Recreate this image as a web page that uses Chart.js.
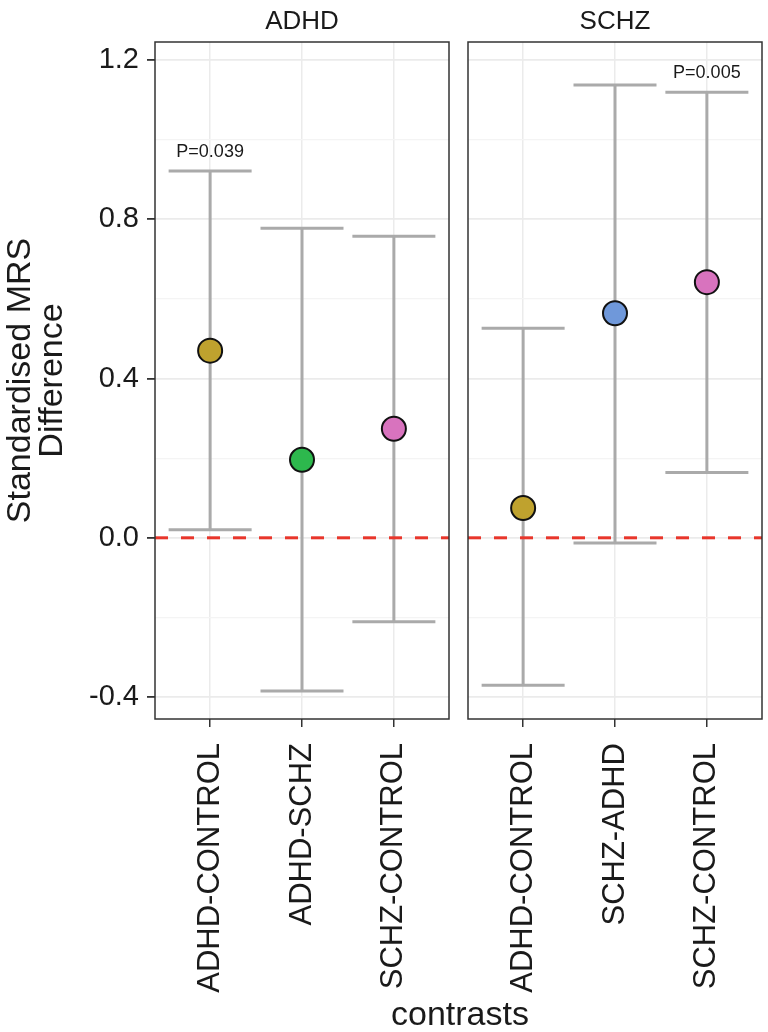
<!DOCTYPE html>
<html>
<head>
<meta charset="utf-8">
<script src="https://cdn.jsdelivr.net/npm/chart.js@4"></script>
<style>
    body { margin: 0; background: #fff; }
    #wrap { position: relative; width: 768px; height: 1032px; overflow: hidden; }
    #left { position: absolute; left: 0; top: 0; }
    #right { position: absolute; left: 458px; top: 0; }
    #xtitle {
        position: absolute; left: 0; width: 920px; top: 994px;
        text-align: center; font: 34px "Liberation Sans", Arial, sans-serif; color: #1a1a1a;
    }
</style>
</head>
<body>
<div id="wrap">
    <canvas id="left" width="458" height="1032"></canvas>
    <canvas id="right" width="310" height="1032"></canvas>
    <div id="xtitle">contrasts</div>
</div>
<script>
// 数据：每个面板的对比、估计值和置信区间
const adhdContrasts = ['ADHD-CONTROL', 'ADHD-SCHZ', 'SCHZ-CONTROL'];
const adhdEstimate = [0.470, 0.196, 0.274];
const adhdLower = [0.020, -0.385, -0.211];
const adhdUpper = [0.921, 0.777, 0.757];
const adhdPValues = ['P=0.039', '', ''];

const schzContrasts = ['ADHD-CONTROL', 'SCHZ-ADHD', 'SCHZ-CONTROL'];
const schzEstimate = [0.075, 0.564, 0.642];
const schzLower = [-0.370, -0.013, 0.164];
const schzUpper = [0.526, 1.137, 1.119];
const schzPValues = ['', '', 'P=0.005'];

const yTicks = [-0.4, -0.2, 0.0, 0.2, 0.4, 0.6, 0.8, 1.0, 1.2];
const yMajorTicks = [-0.4, 0.0, 0.4, 0.8, 1.2];

const adhdColors = ['#BFA22E', '#2DB84D', '#D873BE'];
const schzColors = ['#BFA22E', '#6F98DA', '#D873BE'];

const FONT = '"Liberation Sans", Arial, sans-serif';
const isMajor = v => yMajorTicks.some(t => Math.abs(t - v) < 1e-6);

// 面板边框、分面标题和P值标注
const panelPlugin = {
    id: 'panel',
    afterDatasetsDraw(chart, args, opts) {
        const { ctx, chartArea, scales } = chart;
        ctx.save();
        ctx.fillStyle = '#1a1a1a';
        ctx.font = '18px ' + FONT;
        ctx.textAlign = 'center';
        ctx.textBaseline = 'middle';
        opts.pValues.forEach((txt, i) => {
            if (!txt) return;
            const x = scales.x.getPixelForValue(i);
            const y = scales.y.getPixelForValue(opts.upper[i]) - 19;
            ctx.fillText(txt, x, y);
        });
        ctx.strokeStyle = '#333';
        ctx.lineWidth = 1.5;
        ctx.strokeRect(chartArea.left, chartArea.top, chartArea.right - chartArea.left, chartArea.bottom - chartArea.top);
        ctx.font = '26px ' + FONT;
        ctx.fillText(opts.strip, (chartArea.left + chartArea.right) / 2, 22);
        ctx.restore();
    }
};

function makeChart(canvasId, strip, contrasts, estimate, lower, upper, pValues, colors, isLeft) {
    const points = estimate.map((v, i) => ({ x: i, y: v }));
    const caps = [];
    lower.forEach((v, i) => { caps.push({ x: i, y: v }); caps.push({ x: i, y: upper[i] }); });

    const datasets = [
        {
            type: 'scatter',
            data: points,
            backgroundColor: colors,
            borderColor: '#111',
            borderWidth: 2,
            pointRadius: 12,
            pointHoverRadius: 12
        },
        {
            type: 'line',
            data: [{ x: -0.6, y: 0 }, { x: 2.6, y: 0 }],
            borderColor: '#E8362B',
            borderWidth: 3,
            borderDash: [13, 13],
            pointRadius: 0
        },
        {
            type: 'scatter',
            data: caps,
            pointStyle: 'line',
            pointRadius: 41.5,
            pointHoverRadius: 41.5,
            borderColor: '#AAAAAA',
            borderWidth: 3
        }
    ];
    contrasts.forEach((c, i) => {
        datasets.push({
            type: 'line',
            data: [{ x: i, y: lower[i] }, { x: i, y: upper[i] }],
            borderColor: '#AAAAAA',
            borderWidth: 3,
            pointRadius: 0
        });
    });

    return new Chart(document.getElementById(canvasId), {
        data: { datasets },
        plugins: [panelPlugin],
        options: {
            responsive: false,
            animation: false,
            layout: {
                autoPadding: false,
                padding: isLeft ? { top: 42, right: 9, left: 0, bottom: 0 } : { top: 42, right: 6, left: 10, bottom: 0 }
            },
            plugins: {
                legend: { display: false },
                tooltip: { enabled: false },
                panel: { strip, pValues, upper }
            },
            scales: {
                x: {
                    type: 'linear',
                    min: -0.6,
                    max: 2.6,
                    afterBuildTicks: s => { s.ticks = contrasts.map((c, i) => ({ value: i })); },
                    afterFit: s => { s.height = 313; s.paddingLeft = 0; s.paddingRight = 0; },
                    border: { display: false },
                    grid: { color: '#EBEBEB', lineWidth: 1.5, tickColor: '#333', tickLength: 8 },
                    ticks: {
                        autoSkip: false,
                        minRotation: 90,
                        maxRotation: 90,
                        padding: 16,
                        color: '#1a1a1a',
                        font: { family: FONT, size: 31 },
                        callback: v => contrasts[v]
                    }
                },
                y: {
                    min: -0.455,
                    max: 1.245,
                    afterBuildTicks: s => { s.ticks = yTicks.map(v => ({ value: v })); },
                    afterFit: s => { s.width = isLeft ? 155 : 0; s.paddingTop = 0; s.paddingBottom = 0; },
                    border: { display: false },
                    grid: {
                        color: c => isMajor(c.tick.value) ? '#EBEBEB' : '#F4F4F4',
                        lineWidth: c => isMajor(c.tick.value) ? 1.8 : 1.2,
                        drawTicks: isLeft,
                        tickColor: c => isMajor(c.tick.value) ? '#333' : 'rgba(0,0,0,0)',
                        tickLength: 8
                    },
                    ticks: {
                        display: isLeft,
                        padding: 8,
                        color: '#1a1a1a',
                        font: { family: FONT, size: 29 },
                        callback: v => isMajor(v) ? v.toFixed(1) : ''
                    },
                    title: {
                        display: isLeft,
                        text: ['Standardised MRS', 'Difference'],
                        color: '#1a1a1a',
                        font: { family: FONT, size: 34, lineHeight: 0.95 },
                        padding: { top: 4, bottom: 0 }
                    }
                }
            }
        }
    });
}

makeChart('left', 'ADHD', adhdContrasts, adhdEstimate, adhdLower, adhdUpper, adhdPValues, adhdColors, true);
makeChart('right', 'SCHZ', schzContrasts, schzEstimate, schzLower, schzUpper, schzPValues, schzColors, false);
</script>
</body>
</html>
